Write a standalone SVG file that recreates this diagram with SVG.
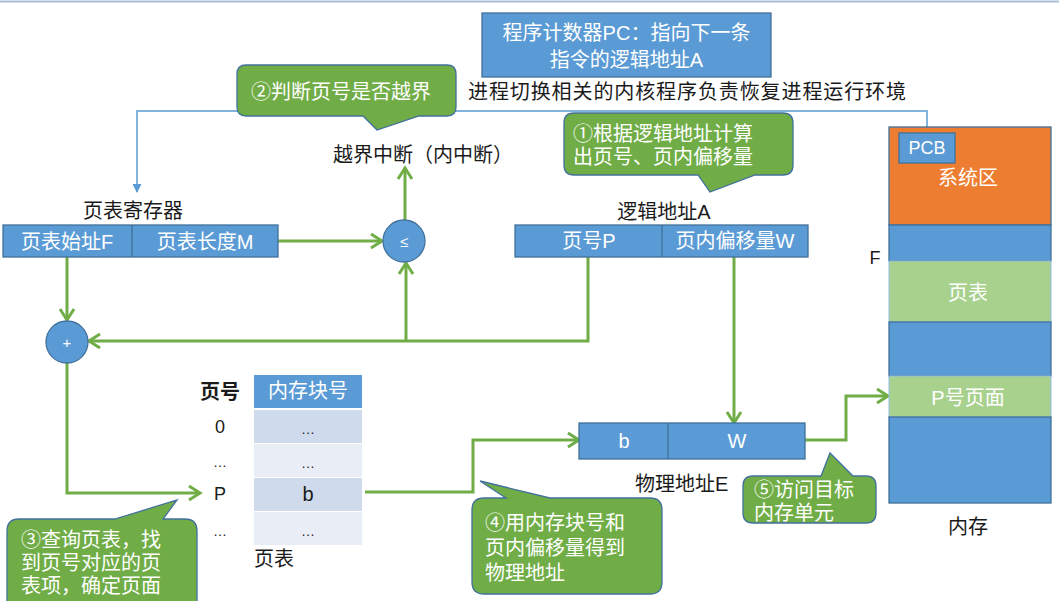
<svg xmlns="http://www.w3.org/2000/svg" width="1059" height="601" viewBox="0 0 1059 601">
<style>
text{font-family:"Liberation Sans","Noto Sans CJK SC",sans-serif;font-size:20px;dominant-baseline:central}
.w{fill:#ffffff}
.k{fill:#1a1a1a}
.m{text-anchor:middle}
.box{fill:#5b9bd5;stroke:#41719c;stroke-width:1.3}
.call{fill:#70ad47;stroke:#41719c;stroke-width:1.3}
.g{fill:none;stroke:#70ad47;stroke-width:3;marker-end:url(#ga)}
.gl{fill:none;stroke:#70ad47;stroke-width:3}
.bl{fill:none;stroke:#5b9bd5;stroke-width:1.5}
.rowd{fill:#cfdbec}
.rowl{fill:#e9eef6}
</style>
<defs>
<marker id="ga" viewBox="0 0 14 16" refX="12" refY="8" markerWidth="14" markerHeight="16" markerUnits="userSpaceOnUse" orient="auto" overflow="visible">
<path d="M1,1 L12,8 L1,15" fill="none" stroke="#70ad47" stroke-width="3"/>
</marker>
<marker id="ba" viewBox="0 0 10 10" refX="9" refY="5" markerWidth="9" markerHeight="9" markerUnits="userSpaceOnUse" orient="auto">
<path d="M0,0 L10,5 L0,10 Z" fill="#5b9bd5"/>
</marker>
</defs>
<rect x="0" y="0" width="1059" height="601" fill="#ffffff"/>
<line x1="0" y1="1.5" x2="1059" y2="1.5" stroke="#a8bcd9" stroke-width="2"/>

<g id="connectors">
<path class="bl" d="M927,133 V111 H137 V192" marker-end="url(#ba)"/>
<path class="g" d="M278,241 H382"/>
<path class="g" d="M405,220 V168"/>
<path class="g" d="M67,257 V320"/>
<path class="gl" d="M588,257 V341 H406"/>
<path class="g" d="M406,341 H89"/>
<path class="g" d="M406,341 V263"/>
<path class="g" d="M734,257 V423"/>
<path class="g" d="M67,363 V493 H200"/>
<path class="g" d="M365,492 H473 V440 H579"/>
<path class="g" d="M805,440 H846 V396 H888"/>
</g>

<g id="pc">
<rect class="box" x="482" y="13" width="289" height="64"/>
<text class="w m" x="626.5" y="33">程序计数器PC：指向下一条</text>
<text class="w m" x="626.5" y="60">指令的逻辑地址A</text>
</g>

<g id="kernel-note">
<text class="k" x="468" y="92" textLength="438" lengthAdjust="spacing">进程切换相关的内核程序负责恢复进程运行环境</text>
</g>

<g id="callout2">
<path class="call" d="M246,65 H447 Q456,65 456,74 V107 Q456,116 447,116 H419 L377,130 L363,116 H246 Q237,116 237,107 V74 Q237,65 246,65 Z"/>
<text class="w m" x="341" y="92">②判断页号是否越界</text>
</g>

<g id="interrupt">
<text class="k" x="333" y="155">越界中断（内中断）</text>
</g>

<g id="callout1">
<path class="call" d="M574,113 H783 Q793,113 793,123 V165 Q793,175 783,175 H755 L710,192 L698,175 H574 Q564,175 564,165 V123 Q564,113 574,113 Z"/>
<text class="w" x="573" y="134">①根据逻辑地址计算</text>
<text class="w" x="573" y="157">出页号、页内偏移量</text>
</g>

<g id="ptr-register">
<text class="k m" x="133" y="211">页表寄存器</text>
<rect class="box" x="3" y="225" width="275" height="32"/>
<line x1="132" y1="225" x2="132" y2="257" stroke="#41719c" stroke-width="1.3"/>
<text class="w m" x="67" y="242">页表始址F</text>
<text class="w m" x="205" y="242">页表长度M</text>
</g>

<g id="compare">
<circle class="box" cx="404" cy="241" r="21"/>
<text class="w m" x="404" y="241" style="font-size:15px">≤</text>
</g>

<g id="adder">
<circle class="box" cx="67" cy="342" r="21"/>
<text class="w m" x="67" y="342" style="font-size:15px">+</text>
</g>

<g id="logical-address">
<text class="k m" x="664" y="212">逻辑地址A</text>
<rect class="box" x="515" y="225" width="293" height="32"/>
<line x1="662" y1="225" x2="662" y2="257" stroke="#41719c" stroke-width="1.3"/>
<text class="w m" x="589" y="241">页号P</text>
<text class="w m" x="735" y="241">页内偏移量W</text>
</g>

<g id="physical-address">
<rect class="box" x="579" y="423" width="226" height="36"/>
<line x1="668" y1="423" x2="668" y2="459" stroke="#41719c" stroke-width="1.3"/>
<text class="w m" x="624" y="441">b</text>
<text class="w m" x="737" y="441">W</text>
<text class="k" x="635" y="484">物理地址E</text>
</g>

<g id="page-table">
<text class="k m" x="220" y="392" style="font-weight:bold">页号</text>
<rect x="254" y="375" width="108" height="33" fill="#5b9bd5"/>
<text class="w m" x="308" y="391">内存块号</text>
<rect class="rowd" x="254" y="410" width="108" height="33"/>
<rect class="rowl" x="254" y="444" width="108" height="33"/>
<rect class="rowd" x="254" y="478" width="108" height="33"/>
<rect class="rowl" x="254" y="512" width="108" height="33"/>
<text class="k m" x="220" y="427" style="font-size:18px">0</text>
<text class="k m" x="220" y="462" style="font-size:14px">…</text>
<text class="k m" x="220" y="494" style="font-size:18px">P</text>
<text class="k m" x="220" y="531" style="font-size:14px">…</text>
<text class="k m" x="308" y="429" style="font-size:14px">…</text>
<text class="k m" x="308" y="463" style="font-size:14px">…</text>
<text class="k m" x="308" y="494" style="font-size:20px">b</text>
<text class="k m" x="308" y="531" style="font-size:14px">…</text>
<text class="k" x="254" y="559">页表</text>
</g>

<g id="callout3">
<path class="call" d="M19,519 H115 L177,500 L163,519 H185 Q197,519 197,531 V620 H7 V531 Q7,519 19,519 Z"/>
<text class="w" x="21" y="540">③查询页表，找</text>
<text class="w" x="21" y="563">到页号对应的页</text>
<text class="w" x="21" y="586">表项，确定页面</text>
</g>

<g id="callout4">
<path class="call" d="M484,498 H506 L480,481 L550,498 H650 Q662,498 662,510 V582 Q662,594 650,594 H484 Q472,594 472,582 V510 Q472,498 484,498 Z"/>
<text class="w" x="485" y="523">④用内存块号和</text>
<text class="w" x="485" y="548">页内偏移量得到</text>
<text class="w" x="485" y="573">物理地址</text>
</g>

<g id="callout5">
<path class="call" d="M753,476 H821 L830,453 L853,476 H866 Q876,476 876,486 V513 Q876,523 866,523 H753 Q743,523 743,513 V486 Q743,476 753,476 Z"/>
<text class="w" x="754" y="490">⑤访问目标</text>
<text class="w" x="754" y="513">内存单元</text>
</g>

<g id="memory">
<rect x="889" y="127" width="162" height="98" fill="#ed7d31" stroke="#41719c" stroke-width="1.3"/>
<rect class="box" x="889" y="225" width="162" height="36"/>
<rect x="889" y="261" width="162" height="61" fill="#a9d18e" stroke="#8fbde6" stroke-width="1"/>
<rect class="box" x="889" y="322" width="162" height="54"/>
<rect x="889" y="376" width="162" height="41" fill="#a9d18e" stroke="#8fbde6" stroke-width="1"/>
<rect class="box" x="889" y="417" width="162" height="86"/>
<text class="w m" x="968" y="178">系统区</text>
<text class="w m" x="968" y="293">页表</text>
<text class="w m" x="968" y="398">P号页面</text>
<text class="k m" x="875" y="258" style="font-size:18px">F</text>
<text class="k m" x="968" y="527">内存</text>
</g>

<g id="pcb">
<rect class="box" x="899" y="133" width="56" height="30"/>
<text class="w m" x="927" y="148" style="font-size:18px">PCB</text>
</g>
</svg>
